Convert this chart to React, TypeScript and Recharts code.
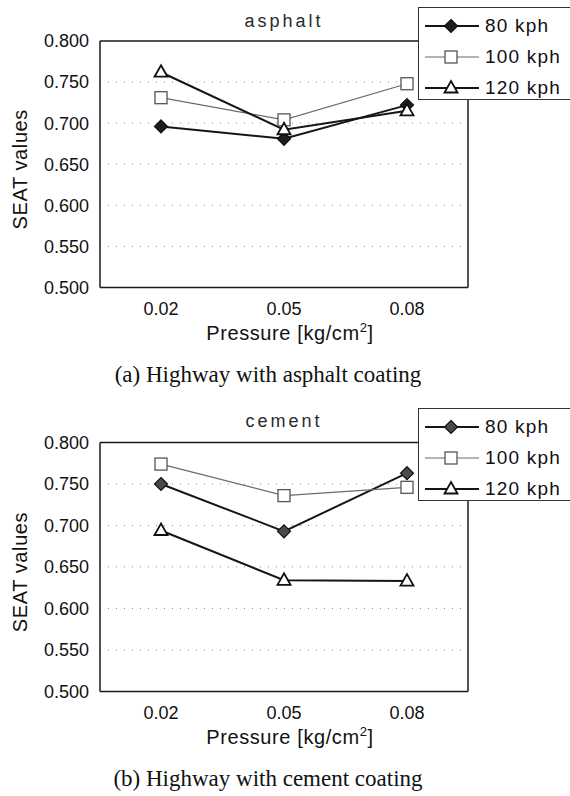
import { LineChart, Line, XAxis, YAxis, CartesianGrid, Legend } from 'recharts';

// pressure categories on the x axis
const pressures = ['0.02', '0.05', '0.08'];
const yTicks = [0.5, 0.55, 0.6, 0.65, 0.7, 0.75, 0.8];

// (a) asphalt
const asphalt80 = [0.696, 0.681, 0.722];
const asphalt100 = [0.731, 0.704, 0.748];
const asphalt120 = [0.762, 0.692, 0.715];

// (b) cement
const cement80 = [0.75, 0.693, 0.763];
const cement100 = [0.774, 0.736, 0.746];
const cement120 = [0.694, 0.634, 0.633];

const SANS = '"Liberation Sans", Arial, sans-serif';
const SERIF = '"Liberation Serif", "Times New Roman", serif';
const INK = '#111';

interface MarkerProps {
  cx?: number;
  cy?: number;
  fill?: string;
}

const Diamond = ({ cx = 0, cy = 0, fill = '#222' }: MarkerProps) => (
  <path
    d={`M${cx},${cy - 6.5}L${cx + 6.5},${cy}L${cx},${cy + 6.5}L${cx - 6.5},${cy}Z`}
    fill={fill}
    stroke="#111"
    strokeWidth={1.2}
  />
);

const Square = ({ cx = 0, cy = 0 }: MarkerProps) => (
  <rect x={cx - 6} y={cy - 6} width={12} height={12} fill="#fff" stroke="#555" strokeWidth={1.3} />
);

const Triangle = ({ cx = 0, cy = 0 }: MarkerProps) => (
  <path
    d={`M${cx},${cy - 7}L${cx + 6.5},${cy + 4.5}L${cx - 6.5},${cy + 4.5}Z`}
    fill="#fff"
    stroke="#111"
    strokeWidth={1.8}
  />
);

const series = [
  { key: 'kph80', name: '80 kph', stroke: '#161616', width: 2, Marker: Diamond },
  { key: 'kph100', name: '100 kph', stroke: '#6a6a6a', width: 1.2, Marker: Square },
  { key: 'kph120', name: '120 kph', stroke: '#161616', width: 2, Marker: Triangle },
];

const axisLine = { stroke: '#1a1a1a', strokeWidth: 1.5 };
const tickStyle = { fill: INK, fontSize: 18, fontFamily: SANS };

const makeLegend = (diamondFill: string) => () => (
  <div
    style={{
      border: '1px solid #333',
      background: '#fff',
      width: 170,
      height: 93,
      boxSizing: 'border-box',
      paddingTop: 2,
    }}
  >
    {series.map(({ key, name, stroke, width, Marker }) => (
      <div key={key} style={{ display: 'flex', alignItems: 'center', height: 31 }}>
        <svg width={66} height={20}>
          <line x1={6} y1={10} x2={60} y2={10} stroke={stroke} strokeWidth={width} />
          <Marker cx={32} cy={10} fill={diamondFill} />
        </svg>
        <span style={{ fontFamily: SANS, fontSize: 19, letterSpacing: 1.2, color: INK }}>{name}</span>
      </div>
    ))}
  </div>
);

interface PanelProps {
  title: string;
  caption: string;
  s80: number[];
  s100: number[];
  s120: number[];
  height: number;
  plotTop: number;
  plotBottom: number;
  legendTop: number;
  diamondFill: string;
}

function Panel({ title, caption, s80, s100, s120, height, plotTop, plotBottom, legendTop, diamondFill }: PanelProps) {
  const rows = pressures.map((p, i) => ({ p, kph80: s80[i], kph100: s100[i], kph120: s120[i] }));
  const midY = (plotTop + plotBottom) / 2 + 5;

  const xLabel = () => (
    <text
      x={290}
      y={plotBottom + 52}
      textAnchor="middle"
      fill={INK}
      fontSize={20}
      fontFamily={SANS}
      letterSpacing={0.6}
    >
      Pressure [kg/cm
      <tspan fontSize={13} dy={-8}>
        2
      </tspan>
      <tspan dy={8}>]</tspan>
    </text>
  );

  const yLabel = () => (
    <text
      x={20}
      y={midY}
      transform={`rotate(-90 20 ${midY})`}
      textAnchor="middle"
      dominantBaseline="central"
      fill={INK}
      fontSize={20}
      fontFamily={SANS}
      letterSpacing={0.6}
    >
      SEAT values
    </text>
  );

  return (
    <div style={{ position: 'relative', width: 570, height }}>
      <LineChart
        width={570}
        height={height}
        data={rows}
        margin={{ top: plotTop - 1, right: 101, bottom: height - plotBottom - 40, left: 40 }}
      >
        <CartesianGrid vertical={false} stroke="#8a8a8a" strokeDasharray="1 7" />
        <XAxis
          dataKey="p"
          padding={{ left: 61, right: 61 }}
          height={40}
          tickLine={false}
          tickSize={13}
          tickMargin={2}
          axisLine={axisLine}
          tick={tickStyle}
          label={xLabel}
        />
        <XAxis
          xAxisId="top"
          orientation="top"
          dataKey="p"
          padding={{ left: 61, right: 61 }}
          height={1}
          tick={false}
          tickLine={false}
          axisLine={axisLine}
        />
        <YAxis
          domain={[0.5, 0.8]}
          ticks={yTicks}
          interval={0}
          tickFormatter={(v: number) => v.toFixed(3)}
          width={60}
          tickLine={false}
          tickSize={9}
          tickMargin={2}
          axisLine={axisLine}
          tick={tickStyle}
          label={yLabel}
        />
        <YAxis
          yAxisId="right"
          orientation="right"
          domain={[0.5, 0.8]}
          width={1}
          tick={false}
          tickLine={false}
          axisLine={axisLine}
        />
        <Legend
          layout="vertical"
          align="center"
          verticalAlign="middle"
          content={makeLegend(diamondFill)}
          wrapperStyle={{ left: 418, top: legendTop, width: 170 }}
        />
        {series.map(({ key, name, stroke, width, Marker }) => (
          <Line
            key={key}
            dataKey={key}
            name={name}
            type="linear"
            stroke={stroke}
            strokeWidth={width}
            isAnimationActive={false}
            dot={(props: any) => (
              <Marker key={`${key}-${props.index}`} cx={props.cx} cy={props.cy} fill={diamondFill} />
            )}
            activeDot={false}
          />
        ))}
      </LineChart>
      <svg
        width={570}
        height={height}
        style={{ position: 'absolute', left: 0, top: 0, pointerEvents: 'none' }}
      >
        <text x={284} y={27} textAnchor="middle" fill="#2a2a2a" fontSize={18} fontFamily={SANS} letterSpacing={3}>
          {title}
        </text>
        <text x={268} y={plotBottom + 94} textAnchor="middle" fill={INK} fontSize={23} fontFamily={SERIF}>
          {caption}
        </text>
      </svg>
    </div>
  );
}

export default function App() {
  return (
    <div
      style={{
        position: 'absolute',
        left: 0,
        top: 0,
        width: 570,
        height: 796,
        overflow: 'hidden',
        background: '#fff',
      }}
    >
      <Panel
        title="asphalt"
        caption="(a) Highway with asphalt coating"
        s80={asphalt80}
        s100={asphalt100}
        s120={asphalt120}
        height={400}
        plotTop={41}
        plotBottom={287.5}
        legendTop={7}
        diamondFill="#1e1e1e"
      />
      <Panel
        title="cement"
        caption="(b) Highway with cement coating"
        s80={cement80}
        s100={cement100}
        s120={cement120}
        height={396}
        plotTop={42.5}
        plotBottom={291.5}
        legendTop={8}
        diamondFill="#4a4a4a"
      />
    </div>
  );
}
